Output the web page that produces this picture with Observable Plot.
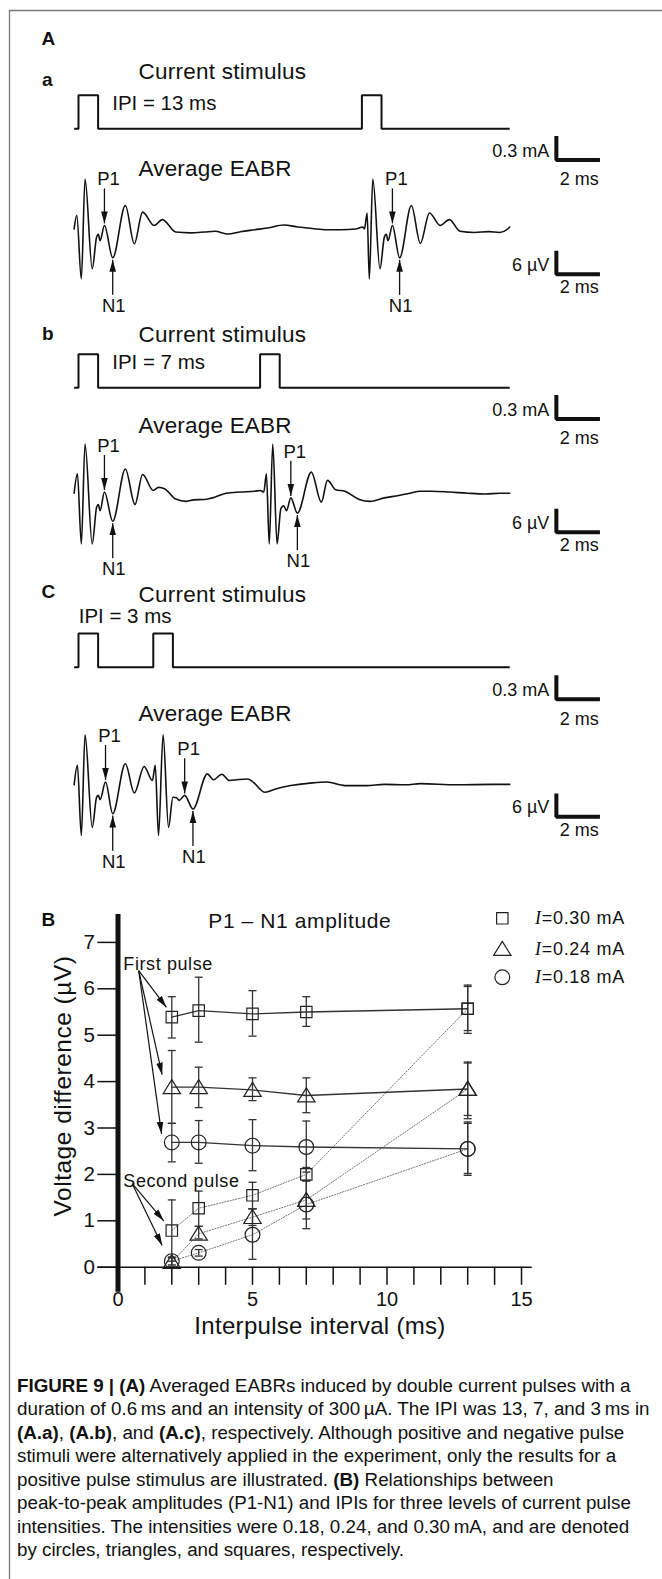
<!DOCTYPE html>
<html>
<head>
<meta charset="utf-8">
<script src="https://cdn.jsdelivr.net/npm/d3@7"></script>
<script src="https://cdn.jsdelivr.net/npm/@observablehq/plot@0.6"></script>
<style>
  html, body { margin: 0; padding: 0; background: #fff; }
  #fig { position: relative; width: 662px; height: 1579px; overflow: hidden; background: #fff; }
  #fig > div { position: absolute; left: 0; top: 0; }
  #fig svg { display: block; overflow: visible; }
</style>
</head>
<body>
<div id="fig"></div>
<script>
// ================= DATA =================
// ---- Panel A: current stimulus (ms / mA, as drawn) ----
const stimOnsetsA = [0, 13];
const stimOnsetsB = [0, 8.33];
const stimOnsetsC = [0, 3.43];
const pulseWidth = 0.9;
const pulseAmp = 0.42;
const traceStart = -0.2, traceEnd = 19.78;

// ---- Panel A: average EABR traces [time ms, amplitude µV] ----
const eabrA = [
  [-0.20,0.4],[-0.08,3.9],[0.13,-12.4],[0.30,13.2],[0.63,-9.8],[0.83,-1.7],[0.91,-1.0],[0.99,-2.6],
  [1.19,1.3],[1.57,-7.0],[2.15,6.4],[2.56,-3.4],[2.94,4.7],[3.47,1.3],[3.85,2.8],[4.46,-0.4],
  [5.12,-0.6],[5.78,-0.4],[6.27,-0.2],[6.85,-0.9],[7.43,-0.3],[8.09,0.2],[8.75,0.7],[9.41,1.4],
  [10.07,0.9],[10.73,0.5],[11.39,0.2],[12.05,0.2],[12.71,0.4],[13.04,0.9],
  [13.12,0.4],[13.24,4.5],[13.34,-12.4],[13.50,13.2],[13.83,-9.8],[14.03,-1.7],[14.12,-1.0],[14.20,-2.6],
  [14.40,1.3],[14.73,-7.0],[15.27,6.4],[15.68,-3.3],[16.10,4.5],[16.59,1.3],[17.01,2.8],[17.50,-0.2],
  [18.16,-0.5],[18.82,-0.3],[19.32,-0.5],[19.65,0.2],[19.78,0.9]
];
const eabrB = [
  [-0.20,0],[-0.05,5.0],[0.13,-13.0],[0.30,12.6],[0.63,-13.0],[0.83,-3.6],[0.91,-2.9],[0.99,-4.5],
  [1.19,0.3],[1.57,-7.2],[2.15,6.2],[2.59,-2.9],[2.94,4.8],[3.43,0.7],[3.67,1.5],[3.96,1.1],
  [4.46,-1.5],[4.95,-2.1],[5.28,-1.7],[5.78,-1.6],[6.27,-1.0],[6.77,0],[7.43,0.3],[8.09,0.5],[8.34,0.7],
  [8.50,0.3],[8.62,5.0],[8.75,-13.0],[8.91,12.6],[9.11,-13.0],[9.28,-4.0],[9.41,-3.2],[9.54,-4.5],
  [9.74,-1.2],[10.04,-5.1],[10.68,5.4],[11.14,-2.3],[11.42,3.3],[11.80,0.9],[12.22,0.5],[12.88,-1.6],
  [13.37,-2.1],[14.03,-1.2],[14.69,-0.6],[15.19,0],[15.68,0.5],[16.18,0.5],[17.01,0.3],[17.83,0],
  [18.66,-0.2],[19.32,0],[19.78,0]
];
const eabrC = [
  [-0.20,0],[-0.05,5.0],[0.13,-13.0],[0.30,12.8],[0.63,-10.9],[0.83,-3.2],[0.91,-2.7],[0.99,-3.8],
  [1.24,0.7],[1.57,-7.4],[2.15,5.4],[2.56,-2.1],[3.01,4.7],[3.39,1.1],
  [3.52,5.0],[3.67,-13.0],[3.88,12.8],[4.13,-10.9],[4.33,-3.2],[4.49,-3.3],[4.62,-4.0],[4.87,-2.7],
  [5.25,-6.2],[5.91,2.8],[6.19,1.3],[6.57,2.7],[6.93,1.1],[7.26,1.3],[7.76,1.5],[8.01,0.7],
  [8.55,-1.9],[9.08,-1.0],[9.74,-0.2],[10.73,0.5],[11.39,0.7],[12.22,-0.2],[13.21,-0.2],[14.03,0.1],
  [15.02,0],[15.68,0.3],[17.34,0],[18.99,0.1],[19.78,0.1]
];
// P1 peaks and N1 troughs [ms, µV]
const p1A = [[1.19,1.3],[14.40,1.3]];
const n1A = [[1.57,-7.0],[14.73,-7.0]];
const p1B = [[1.19,0.3],[9.74,-1.2]];
const n1B = [[1.57,-7.2],[10.04,-5.1]];
const p1C = [[1.24,0.7],[4.87,-2.7]];
const n1C = [[1.57,-7.4],[5.25,-6.2]];

// scale bars
const stimBarSize = 0.3, eabrBarSize = 6, timeBarSize = 2;
const stimBarLabel = "0.3 mA", eabrBarLabel = "6 \u00b5V", timeBarLabel = "2 ms";

// ---- Panel B: P1–N1 amplitude vs interpulse interval ----
const ipi = [2, 3, 5, 7, 13];
const first030 = [5.39, 5.53, 5.46, 5.50, 5.57];
const first030err = [[4.94,5.83],[4.85,6.25],[4.98,5.96],[5.19,5.83],[5.04,6.05]];
const first024 = [3.88, 3.88, 3.82, 3.70, 3.84];
const first024err = [[3.10,4.67],[3.44,4.31],[3.59,4.08],[3.33,4.08],[3.27,4.40]];
const first018 = [2.69, 2.69, 2.62, 2.59, 2.55];
const first018err = [[2.27,3.10],[2.24,3.16],[2.08,3.18],[2.05,3.15],[1.98,3.13]];
const second030 = [0.79, 1.27, 1.55, 2.00, 5.57];
const second030err = [[0.13,1.45],[0.88,1.64],[1.26,1.83],[1.86,2.15],[5.10,6.08]];
const second024 = [0.11, 0.72, 1.08, 1.45, 3.84];
const second024err = [[0.02,0.20],[0.61,0.88],[0.90,1.26],[1.04,1.86],[3.20,4.42]];
const second018 = [0.13, 0.31, 0.70, 1.35, 2.55];
const second018err = [[0.05,0.22],[0.24,0.38],[0.17,1.26],[0.83,1.87],[2.02,3.10]];
const yTicks = [0, 1, 2, 3, 4, 5, 6, 7];
const xTicks = [1, 2, 3, 4, 5, 6, 7, 8, 9, 10, 11, 12, 13, 14, 15];
const xTickLabels = [0, 5, 10, 15];
const legendLabels = ["=0.30 mA", "=0.24 mA", "=0.18 mA"];
// annotation arrows [x1, y1, x2, y2] (ms, µV)
const firstPulseArrows = [[0.77,6.39,1.80,5.60],[0.77,6.39,1.64,4.15],[0.77,6.39,1.62,2.875]];
const secondPulseArrows = [[0.53,1.80,1.70,1.00],[0.53,1.80,1.64,0.47]];

const captionLines = [
  [["FIGURE 9 | (A)",1],[" Averaged EABRs induced by double current pulses with a",0]],
  [["duration of 0.6\u2009ms and an intensity of 300\u2009\u00b5A. The IPI was 13, 7, and 3\u2009ms in",0]],
  [["(A.a)",1],[", ",0],["(A.b)",1],[", and ",0],["(A.c)",1],[", respectively. Although positive and negative pulse",0]],
  [["stimuli were alternatively applied in the experiment, only the results for a",0]],
  [["positive pulse stimulus are illustrated. ",0],["(B)",1],[" Relationships between",0]],
  [["peak-to-peak amplitudes (P1-N1) and IPIs for three levels of current pulse",0]],
  [["intensities. The intensities were 0.18, 0.24, and 0.30\u2009mA, and are denoted",0]],
  [["by circles, triangles, and squares, respectively.",0]]
];

// ================= LAYOUT / HELPERS =================
const W = 662, H = 1579;
const FONT = "'Liberation Sans', Arial, Helvetica, sans-serif";
const INK = "#111";
const fig = document.getElementById("fig");

function fillMarkers(svg) {
  svg.querySelectorAll("marker").forEach(m => {
    const col = m.getAttribute("stroke") || INK;
    m.setAttribute("viewBox", "-12 -4 12 8");
    m.setAttribute("markerUnits", "userSpaceOnUse");
    m.setAttribute("markerWidth", "12");
    m.setAttribute("markerHeight", "8");
    m.setAttribute("refX", "0");
    m.setAttribute("refY", "0");
    m.setAttribute("fill", col);
    m.setAttribute("stroke", "none");
    while (m.firstChild) m.removeChild(m.firstChild);
    const p = document.createElementNS("http://www.w3.org/2000/svg", "path");
    p.setAttribute("d", "M-12,-3.3L0,0L-12,3.3Z");
    m.appendChild(p);
  });
}
function addPlot(opts) {
  const p = Plot.plot({
    width: W, height: H, margin: 0,
    style: {background: "transparent", fontFamily: FONT, overflow: "visible"},
    ...opts
  });
  fillMarkers(p);
  const wrap = document.createElement("div");
  wrap.appendChild(p);
  fig.appendChild(wrap);
  return p;
}
function stimPoints(onsets) {
  const pts = [[traceStart, 0]];
  for (const o of onsets) pts.push([o, 0], [o, pulseAmp], [o + pulseWidth, pulseAmp], [o + pulseWidth, 0]);
  pts.push([traceEnd, 0]);
  return pts;
}

// row layout (page positions of the zero levels, bar anchors)
const BAR_T = 21.92;
const rows = [
  {onsets: stimOnsetsA, eabr: eabrA, p1: p1A, n1: n1A, stimZeroY: 128.3, eabrZeroY: 230.0, stimBarV: -0.39, eabrBarV: -11.2},
  {onsets: stimOnsetsB, eabr: eabrB, p1: p1B, n1: n1B, stimZeroY: 387.3, eabrZeroY: 492.7, stimBarV: -0.39, eabrBarV: -10.0},
  {onsets: stimOnsetsC, eabr: eabrC, p1: p1C, n1: n1C, stimZeroY: 666.7, eabrZeroY: 784.3, stimBarV: -0.40, eabrBarV: -8.2}
];
const PXMA = 80, PXUV = 3.9;

for (const r of rows) {
  const tx = {domain: [0, 20], range: [78, 514], axis: null};
  // stimulus trace
  const sb = [[BAR_T, r.stimBarV + stimBarSize], [BAR_T, r.stimBarV], [BAR_T + timeBarSize, r.stimBarV]];
  addPlot({
    x: tx,
    y: {domain: [0, 1], range: [r.stimZeroY, r.stimZeroY - PXMA], axis: null},
    marks: [
      Plot.line(stimPoints(r.onsets), {x: d => d[0], y: d => d[1], stroke: INK, strokeWidth: 2, strokeLinejoin: "miter", strokeLinecap: "butt"}),
      Plot.line(sb, {x: d => d[0], y: d => d[1], stroke: INK, strokeWidth: 4, strokeLinejoin: "miter", strokeLinecap: "butt"}),
      Plot.text([stimBarLabel], {x: BAR_T, y: r.stimBarV, text: d => d, dx: -7, dy: -3, textAnchor: "end", lineAnchor: "bottom", fontSize: 18, fill: INK, fontFamily: FONT}),
      Plot.text([timeBarLabel], {x: BAR_T + timeBarSize / 2, y: r.stimBarV, text: d => d, dx: 1, dy: 25.3, textAnchor: "middle", lineAnchor: "bottom", fontSize: 18, fill: INK, fontFamily: FONT})
    ]
  });
  // EABR trace
  const eb = [[BAR_T, r.eabrBarV + eabrBarSize], [BAR_T, r.eabrBarV], [BAR_T + timeBarSize, r.eabrBarV]];
  const P = r.p1.map(([t, v]) => ({t, v}));
  const N = r.n1.map(([t, v]) => ({t, v}));
  addPlot({
    x: {...tx},
    y: {domain: [0, 10], range: [r.eabrZeroY, r.eabrZeroY - 10 * PXUV], axis: null},
    marks: [
      Plot.line(r.eabr, {x: d => d[0], y: d => d[1], curve: "monotone-x", stroke: INK, strokeWidth: 1.6}),
      Plot.line(eb, {x: d => d[0], y: d => d[1], stroke: INK, strokeWidth: 4, strokeLinejoin: "miter", strokeLinecap: "butt"}),
      Plot.text([eabrBarLabel], {x: BAR_T, y: r.eabrBarV, text: d => d, dx: -7, dy: -3.6, textAnchor: "end", lineAnchor: "bottom", fontSize: 18, fill: INK, fontFamily: FONT}),
      Plot.text([timeBarLabel], {x: BAR_T + timeBarSize / 2, y: r.eabrBarV, text: d => d, dx: 1, dy: 18.8, textAnchor: "middle", lineAnchor: "bottom", fontSize: 18, fill: INK, fontFamily: FONT}),
      Plot.link(P, {x1: "t", x2: "t", y1: d => d.v + 9.5, y2: d => d.v + 0.5, stroke: INK, strokeWidth: 1.3, markerEnd: "arrow"}),
      Plot.link(N, {x1: "t", x2: "t", y1: d => d.v - 9.5, y2: d => d.v - 0.5, stroke: INK, strokeWidth: 1.3, markerEnd: "arrow"}),
      Plot.text(P, {x: "t", y: "v", text: () => "P1", dx: 4, dy: -40, textAnchor: "middle", lineAnchor: "bottom", fontSize: 18.5, fill: INK, fontFamily: FONT}),
      Plot.text(N, {x: "t", y: "v", text: () => "N1", dx: 1, dy: 54, textAnchor: "middle", lineAnchor: "bottom", fontSize: 18.5, fill: INK, fontFamily: FONT})
    ]
  });
}

// ---- Panel B ----
const symSquare = {draw(c) { const h = 5.7; c.moveTo(-h, -h); c.lineTo(h, -h); c.lineTo(h, h); c.lineTo(-h, h); c.closePath(); }};
const symTriangle = {draw(c) { c.moveTo(0, -7.6); c.lineTo(8.7, 6.4); c.lineTo(-8.7, 6.4); c.closePath(); }};
const symCircle = {draw(c) { const r = 7.4; c.moveTo(r, 0); c.arc(0, 0, r, 0, 2 * Math.PI); c.closePath(); }};
const symCap = {draw(c) { c.moveTo(-4, 0); c.lineTo(4, 0); }};

const seriesDefs = [
  {key: "0.30", sym: symSquare, f: first030, fe: first030err, s: second030, se: second030err},
  {key: "0.24", sym: symTriangle, f: first024, fe: first024err, s: second024, se: second024err},
  {key: "0.18", sym: symCircle, f: first018, fe: first018err, s: second018, se: second018err}
];
const pts = [];
for (const sd of seriesDefs) {
  ipi.forEach((x, i) => {
    pts.push({series: sd.key, pulse: "first", x, y: sd.f[i], lo: sd.fe[i][0], hi: sd.fe[i][1]});
    pts.push({series: sd.key, pulse: "second", x, y: sd.s[i], lo: sd.se[i][0], hi: sd.se[i][1]});
  });
}
const firstPts = pts.filter(d => d.pulse === "first");
const secondPts = pts.filter(d => d.pulse === "second");
const arrows = [...firstPulseArrows, ...secondPulseArrows].map(([x1, y1, x2, y2]) => ({x1, y1, x2, y2}));

addPlot({
  x: {domain: [0, 15], range: [117.5, 521], axis: null},
  y: {domain: [0, 7], range: [1266.7, 941.9], axis: null},
  marks: [
    Plot.ruleY([0], {x1: -0.75, x2: 15.4, stroke: INK, strokeWidth: 1.5}),
    Plot.ruleX(xTicks, {x: d => d, y1: 0, y2: -0.39, stroke: INK, strokeWidth: 1.5}),
    Plot.ruleY(yTicks, {y: d => d, x1: -0.75, x2: 0, stroke: INK, strokeWidth: 1.5}),
    Plot.ruleX([0], {y1: -0.54, y2: 7.6, stroke: INK, strokeWidth: 5}),
    Plot.text(xTickLabels, {x: d => d, y: 0, text: d => String(d), dy: 38.5, textAnchor: "middle", lineAnchor: "bottom", fontSize: 20, fill: INK, fontFamily: FONT}),
    Plot.text(yTicks, {x: 0, y: d => d, text: d => String(d), dx: -23, textAnchor: "end", lineAnchor: "middle", fontSize: 20.5, fill: INK, fontFamily: FONT}),
    Plot.line(secondPts, {x: "x", y: "y", z: "series", stroke: "#777", strokeWidth: 1, strokeDasharray: "1.2,1.6"}),
    Plot.line(firstPts, {x: "x", y: "y", z: "series", stroke: "#333", strokeWidth: 1.3}),
    Plot.ruleX(pts, {x: "x", y1: "lo", y2: "hi", stroke: "#333", strokeWidth: 1.3}),
    Plot.dot(pts, {x: "x", y: "lo", symbol: symCap, r: 4, fill: "none", stroke: "#333", strokeWidth: 1.3}),
    Plot.dot(pts, {x: "x", y: "hi", symbol: symCap, r: 4, fill: "none", stroke: "#333", strokeWidth: 1.3}),
    ...seriesDefs.map(sd => Plot.dot(pts.filter(d => d.series === sd.key), {x: "x", y: "y", symbol: sd.sym, r: 6, fill: "none", stroke: "#222", strokeWidth: 1.2})),
    Plot.link(arrows, {x1: "x1", y1: "y1", x2: "x2", y2: "y2", stroke: INK, strokeWidth: 1.2, markerEnd: "arrow"})
  ]
});

// ================= STATIC LABELS (overlay) =================
const ov = d3.select(fig).append("div").append("svg")
  .attr("width", W).attr("height", H).attr("viewBox", `0 0 ${W} ${H}`)
  .style("font-family", FONT).style("white-space", "pre");
function label(x, y, s, size, o = {}) {
  const t = ov.append("text").attr("x", x).attr("y", y).attr("font-size", size).attr("fill", INK).text(s);
  if (o.bold) t.attr("font-weight", "bold");
  if (o.anchor) t.attr("text-anchor", o.anchor);
  if (o.ls) t.attr("letter-spacing", o.ls);
  if (o.transform) t.attr("transform", o.transform).attr("x", 0).attr("y", 0);
  return t;
}
// frame
ov.append("path").attr("d", "M9.5,1579V10.5H662").attr("fill", "none").attr("stroke", "#777").attr("stroke-width", 1.3);

// panel letters
label(41.5, 45, "A", 19, {bold: true});
label(42, 86, "a", 19, {bold: true});
label(42, 340, "b", 19, {bold: true});
label(41.5, 598, "C", 19, {bold: true});
label(41.5, 926, "B", 19, {bold: true});

// panel A titles
[[79, 175.7], [341.7, 433.3], [602.3, 720.7]].forEach(([cs, ae]) => {
  label(138.4, cs, "Current stimulus", 22.5, {ls: 0.25});
  label(138.4, ae, "Average EABR", 22.5, {ls: 0.2});
});
label(112.2, 110, "IPI = 13 ms", 20.5);
label(112.2, 369.3, "IPI = 7 ms", 20.5);
label(78.7, 623.3, "IPI = 3 ms", 20.5);

// panel B texts
label(208.3, 928.3, "P1 \u2013 N1 amplitude", 21, {ls: 0.6});
label(123.3, 970, "First pulse", 18, {ls: 0.6});
label(123.3, 1186.7, "Second pulse", 18, {ls: 0.6});
label(320, 1333.5, "Interpulse interval (ms)", 24, {anchor: "middle", ls: 0.3});
label(0, 0, "Voltage difference (\u00b5V)", 24.5, {anchor: "middle", ls: 0.5, transform: "translate(71,1086) rotate(-90)"});

// legend
const legendSyms = [symSquare, symTriangle, symCircle];
const legendY = [918.3, 949, 977.3];
legendLabels.forEach((s, i) => {
  const p = d3.path(); legendSyms[i].draw(p);
  ov.append("path").attr("d", p.toString()).attr("transform", `translate(502.3,${legendY[i]})`)
    .attr("fill", "none").attr("stroke", "#222").attr("stroke-width", 1.2);
  const t = ov.append("text").attr("x", 535).attr("y", legendY[i] + 6).attr("font-size", 18).attr("fill", INK).attr("letter-spacing", 0.7);
  t.append("tspan").attr("font-family", "'Liberation Serif', 'Times New Roman', serif").attr("font-style", "italic").text("I");
  t.append("tspan").text(s);
});

// caption
captionLines.forEach((segs, i) => {
  const t = ov.append("text").attr("x", 17).attr("y", 1391.7 + i * 23.5).attr("font-size", 18.8).attr("fill", INK);
  segs.forEach(([s, b]) => { const sp = t.append("tspan").text(s); if (b) sp.attr("font-weight", "bold"); });
});
</script>
</body>
</html>
